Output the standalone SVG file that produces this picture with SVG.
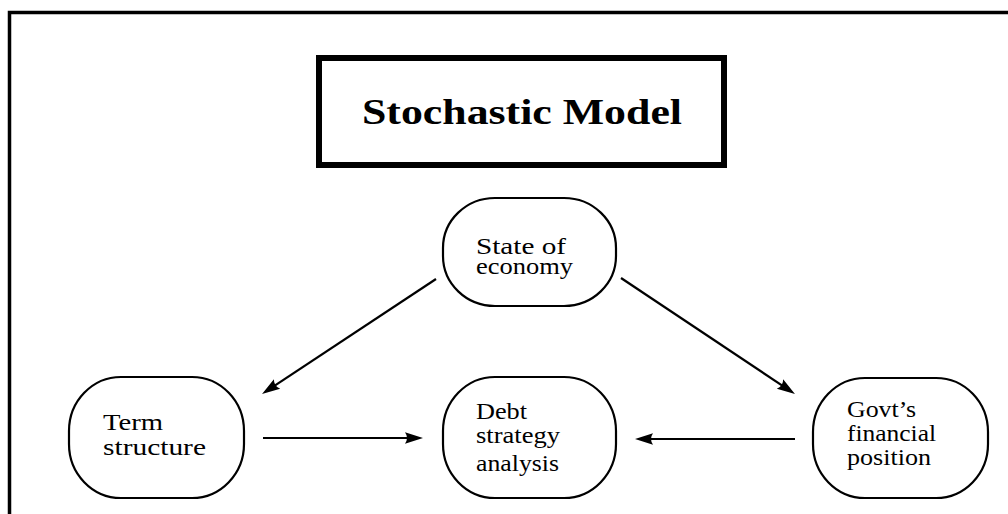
<svg xmlns="http://www.w3.org/2000/svg" width="1008" height="514" viewBox="0 0 1008 514">
<defs>
<style>
.node{fill:none;stroke:#000;stroke-width:2.2}
.lbl{font-size:24px;fill:#000}
.edge{stroke:#000;stroke-width:2.2;fill:none;marker-end:url(#ah)}
</style>
<marker id="ah" markerUnits="userSpaceOnUse" orient="auto" markerWidth="30" markerHeight="20" refX="20" refY="10" viewBox="0 0 30 20" overflow="visible">
<path d="M28,10 L10,4.3 Q14,10 10,15.7 Z" fill="#000"/>
</marker>
</defs>
<rect width="1008" height="514" fill="#fff"/>
<path d="M9.5,520 L9.5,12.5 L1020,12.5" fill="none" stroke="#000" stroke-width="3.5"/>
<g id="title">
<rect x="319" y="58" width="405" height="107" fill="none" stroke="#000" stroke-width="6"/>
<text x="522" y="124" text-anchor="middle" font-family="'Liberation Serif','Times New Roman',serif" font-weight="bold" font-size="36" textLength="320" lengthAdjust="spacingAndGlyphs">Stochastic Model</text>
</g>
<g id="state" font-family="'Liberation Serif','Times New Roman',serif">
<rect class="node" x="443" y="198" width="173" height="108" rx="52" ry="50"/>
<text class="lbl" x="476" y="254" textLength="90" lengthAdjust="spacingAndGlyphs">State of</text>
<text class="lbl" x="476" y="274" textLength="97" lengthAdjust="spacingAndGlyphs">economy</text>
</g>
<g id="term" font-family="'Liberation Serif','Times New Roman',serif">
<rect class="node" x="69" y="377" width="175" height="121" rx="52" ry="54"/>
<text class="lbl" x="103" y="430" textLength="60" lengthAdjust="spacingAndGlyphs">Term</text>
<text class="lbl" x="103" y="455" textLength="103" lengthAdjust="spacingAndGlyphs">structure</text>
</g>
<g id="debt" font-family="'Liberation Serif','Times New Roman',serif">
<rect class="node" x="443" y="377" width="173" height="121" rx="52" ry="54"/>
<text class="lbl" x="476" y="419" textLength="51" lengthAdjust="spacingAndGlyphs">Debt</text>
<text class="lbl" x="476" y="443" textLength="84" lengthAdjust="spacingAndGlyphs">strategy</text>
<text class="lbl" x="476" y="471" textLength="83" lengthAdjust="spacingAndGlyphs">analysis</text>
</g>
<g id="govt" font-family="'Liberation Serif','Times New Roman',serif">
<rect class="node" x="813" y="378" width="175" height="120" rx="52" ry="54"/>
<text class="lbl" x="847" y="417" textLength="69" lengthAdjust="spacingAndGlyphs">Govt’s</text>
<text class="lbl" x="847" y="441" textLength="89" lengthAdjust="spacingAndGlyphs">financial</text>
<text class="lbl" x="847" y="465" textLength="84" lengthAdjust="spacingAndGlyphs">position</text>
</g>
<g id="connectors">
<line class="edge" x1="436" y1="279" x2="268.7" y2="389.6"/>
<line class="edge" x1="621" y1="278" x2="788.3" y2="389.6"/>
<line class="edge" x1="263" y1="438" x2="415" y2="438"/>
<line class="edge" x1="795" y1="439" x2="643" y2="439"/>
</g>
</svg>
